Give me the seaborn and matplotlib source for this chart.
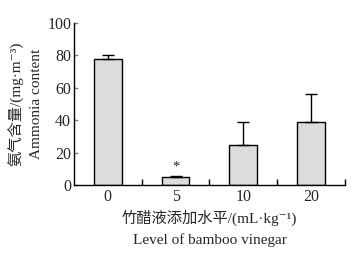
import matplotlib
matplotlib.use("Agg")
import matplotlib.pyplot as plt
import seaborn as sns
import pandas as pd

# 数据
levels = ["0", "5", "10", "20"]
ammonia = [77.6, 4.7, 24.5, 38.7]
ammonia_sd = [2.4, 0.7, 14.2, 17.7]
marks = ["", "*", "", ""]

sns.set_theme(style="ticks")
plt.rcParams["font.family"] = ["Liberation Serif", "DejaVu Serif", "Noto Sans CJK SC"]

df = pd.DataFrame({"level": levels, "ammonia": ammonia})

fig = plt.figure(figsize=(3.6, 2.58), dpi=100)
ax = fig.add_axes([0.2056, 0.283, 0.7524, 0.628])

sns.barplot(data=df, x="level", y="ammonia", color="#dcdcdc", edgecolor="black",
            linewidth=1.0, width=0.41, errorbar=None, ax=ax, saturation=1)
ax.errorbar(range(len(levels)), ammonia, yerr=[[0] * len(levels), ammonia_sd],
            fmt="none", ecolor="black", elinewidth=1.0, capsize=4, capthick=1.0)

for i, m in enumerate(marks):
    if m:
        ax.text(i, ammonia[i] + ammonia_sd[i] + 1.5, m, ha="center", va="bottom", fontsize=10.5)

ax.set_ylim(0, 100)
ax.set_xlim(-0.5, 3.5)
ax.set_yticks([0, 20, 40, 60, 80, 100])
ax.set_xticks([0.5, 1.5, 2.5, 3.5], minor=True)
ax.set_xticks(range(len(levels)))
ax.set_xticklabels(levels)
ax.tick_params(axis="x", which="major", length=0, labelsize=11.5, pad=3)
ax.tick_params(axis="x", which="minor", direction="in", length=4, width=1, color="black")
ax.tick_params(axis="y", direction="in", length=3, width=1, color="#888888", labelsize=11.5, pad=2)

for side in ["top", "right"]:
    ax.spines[side].set_visible(False)
for side in ["left", "bottom"]:
    ax.spines[side].set_linewidth(1.0)
    ax.spines[side].set_color("black")

ax.set_xlabel("竹醋液添加水平/(mL·kg⁻¹)\nLevel of bamboo vinegar", fontsize=11,
              linespacing=1.75, labelpad=3)
ax.set_ylabel("氨气含量/(mg·m⁻³)\nAmmonia content", fontsize=11,
              linespacing=1.55, labelpad=3)

fig.savefig("out.png", dpi=100)
plt.close(fig)
